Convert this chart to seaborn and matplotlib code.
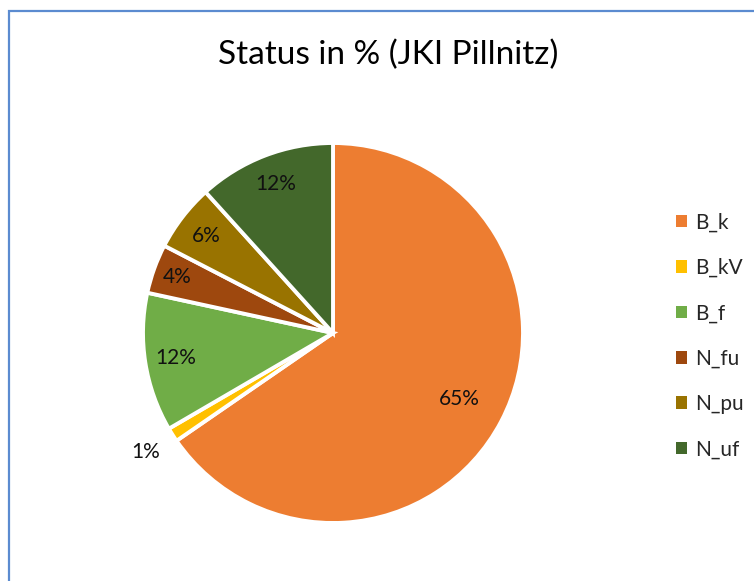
import numpy as np
import seaborn as sns
from matplotlib import pyplot as plt
from matplotlib.patches import Rectangle, Patch

# data
labels = ['B_k', 'B_kV', 'B_f', 'N_fu', 'N_pu', 'N_uf']
shares = [65.4, 1.2, 11.8, 4.2, 5.7, 11.7]
colors = ['#ED7D31', '#FFC000', '#70AD47', '#9E480E', '#997300', '#43682B']
label_dist = [0.75, 1.17, 0.84, 0.87, 0.84, 0.84]

sns.set_style('white')
plt.rcParams['font.family'] = ['Lato', 'DejaVu Sans']

fig = plt.figure(figsize=(7.54, 5.81), dpi=100)
ax = fig.add_axes([143 / 754, 58 / 581, 380 / 754, 380 / 581])

wedges, texts, autotexts = ax.pie(shares, colors=colors, startangle=90, counterclock=False,
                                  autopct='%1.0f%%', pctdistance=0.8,
                                  wedgeprops=dict(edgecolor='white', linewidth=2.8),
                                  textprops=dict(fontsize=15, color='#111111'))
ax.set_xlim(-1, 1)
ax.set_ylim(-1, 1)
ax.set_aspect('equal')

for w, t, d in zip(wedges, autotexts, label_dist):
    ang = np.deg2rad((w.theta1 + w.theta2) / 2)
    t.set_position((d * np.cos(ang), d * np.sin(ang)))

fig.text(388 / 754, 1 - 55 / 581, 'Status in % (JKI Pillnitz)', ha='center', va='center',
         fontsize=24, color='black')

handles = [Patch(facecolor=c, edgecolor='none') for c in colors]
fig.legend(handles, labels, loc='center left', bbox_to_anchor=(657 / 754, 1 - 336 / 581),
           frameon=False, fontsize=15, handlelength=0.55, handleheight=0.55,
           handletextpad=0.4, labelspacing=1.22)

fig.patches.append(Rectangle((9 / 754, -0.1), 1.2, 1.1 - 10.5 / 581, transform=fig.transFigure,
                             fill=False, edgecolor='#5B8BD0', linewidth=1.6))

fig.savefig('out.png', dpi=100)
